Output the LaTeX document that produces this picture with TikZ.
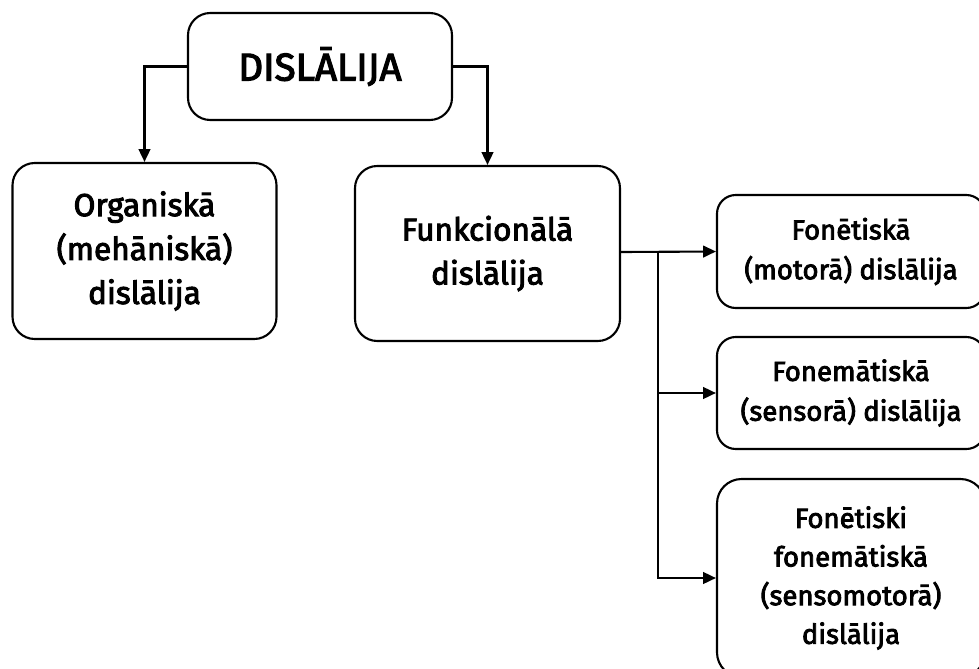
\documentclass[tikz,border=0pt]{standalone}
\usepackage{fontspec}
\setmainfont{Fira Sans}[FakeBold=3]
\usetikzlibrary{arrows.meta,positioning}
\tikzset{roundy/.style={draw,line width=1.8pt,rounded corners=19pt,align=center,inner sep=0},
    headbox/.style={roundy,minimum width=7.92cm,minimum height=3.21cm,font=\fontsize{33}{38}\selectfont},
    bigbox/.style={roundy,minimum width=7.92cm,minimum height=5.28cm,font=\fontsize{27}{37.5}\selectfont},
    sidebox/.style={roundy,minimum width=8.04cm,rounded corners=16pt,font=\fontsize{23.5}{34}\selectfont},
    pointy/.style={-{Triangle[length=11pt,width=10pt]},line width=1.8pt}
}

\begin{document}
\begin{tikzpicture}[x=0.03cm,y=-0.03cm]

\useasboundingbox (0,0) rectangle (979,668);
\clip (0,0) rectangle (979,668);

% top
\node (dis) at (320,66.5) [headbox] {DISLĀLIJA};

% second row
\node (org) at (144.5,251) [bigbox] {Organiskā\\(mehāniskā)\\dislālija};
\node (funk) at (487.5,253.5) [bigbox,minimum width=7.95cm,minimum height=5.25cm] {Funkcionālā\\dislālija};

% right column
\node (fonet) at (851,251.5) [sidebox,minimum height=3.39cm] {Fonētiskā\\(motorā) dislālija};
\node (fonem) at (851,393) [sidebox,minimum height=3.36cm] {Fonemātiskā\\(sensorā) dislālija};
\node (fonfon) at (851,578) [sidebox,minimum height=5.94cm,rounded corners=21pt,font=\fontsize{23.5}{33}\selectfont] {Fonētiski\\fonemātiskā\\(sensomotorā)\\dislālija};

\coordinate (split) at (658,252);

\draw [pointy] (dis.west) -| (org.north);
\draw [pointy] (dis.east) -| (funk.north);
\draw [pointy] (funk.east |- split) -- (fonet.west);
\draw [pointy] (split) |- (fonem.west);
\draw [pointy] (split) |- (fonfon.west);

\end{tikzpicture}
\end{document}
